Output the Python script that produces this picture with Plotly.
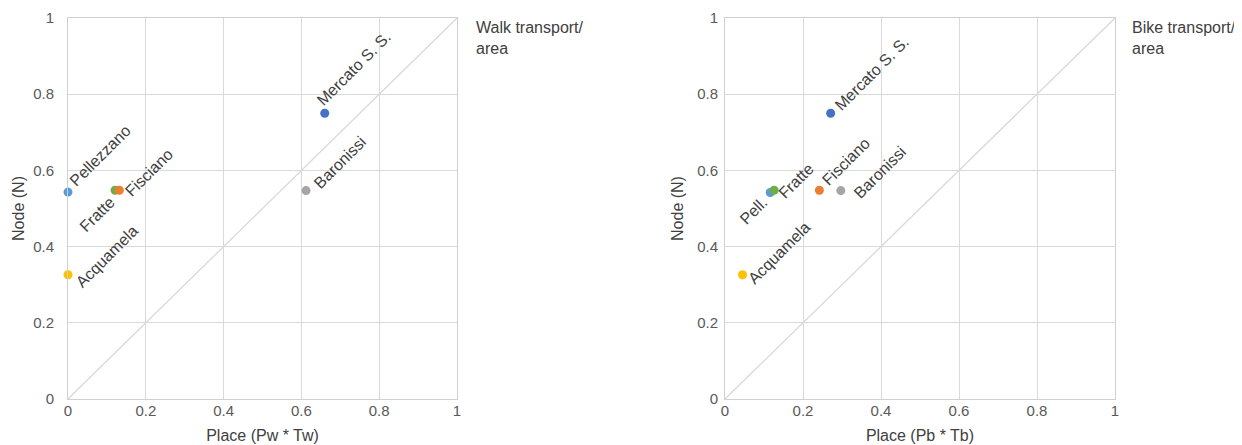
import math
import plotly.graph_objects as go

# ---------------- data ----------------
names = ["Mercato S. S.", "Pellezzano", "Fratte", "Fisciano", "Baronissi", "Acquamela"]
walk_place = [0.66, 0.0, 0.121, 0.132, 0.612, 0.0]
walk_node = [0.75, 0.543, 0.548, 0.548, 0.547, 0.326]
bike_place = [0.271, 0.116, 0.126, 0.242, 0.297, 0.045]
bike_node = [0.75, 0.542, 0.548, 0.548, 0.547, 0.326]
walk_labels = ["Mercato S. S.", "Pellezzano", "Fratte", "Fisciano", "Baronissi", "Acquamela"]
bike_labels = ["Mercato S. S.", "Pell.", "Fratte", "Fisciano", "Baronissi", "Acquamela"]
colors = ["#4472C4", "#5B9BD5", "#70AD47", "#ED7D31", "#A5A5A5", "#FFC000"]
diag = [0, 1]
ticks = [0, 0.2, 0.4, 0.6, 0.8, 1]
tick_text = ["0", "0.2", "0.4", "0.6", "0.8", "1"]

# label placement: screen offset (px) of the text start (or end) from the marker
walk_off = [(-6, -10, "start"), (4, -8, "start"), (-4, 10, "end"),
            (8, 4, "start"), (10, -4, "start"), (10, 11, "start")]
bike_off = [(6, -5, "start"), (-6, 8, "end"), (7, 6, "start"),
            (5, -7, "start"), (15, 6, "start"), (8, 7, "start")]

LABEL_FS = 16
ARIAL = {' ': 278, '.': 278, '/': 278, 'A': 667, 'B': 667, 'F': 611, 'M': 833,
         'P': 667, 'S': 667, 'a': 556, 'c': 500, 'e': 556, 'i': 222, 'k': 500,
         'l': 222, 'm': 833, 'n': 556, 'o': 556, 'q': 556, 'r': 333, 's': 500,
         't': 278, 'u': 556, 'z': 500}


def text_w(s, fs):
    return sum(ARIAL.get(ch, 556) for ch in s) / 1000.0 * fs


def center_shift(label, dx, dy, mode, fs=LABEL_FS):
    c = math.sqrt(0.5)
    w = text_w(label, fs)
    if mode == "end":
        sx, sy = dx - c * w, dy + c * w
    else:
        sx, sy = dx, dy
    up = 0.3465 * fs
    cx = sx + c * w / 2 - c * up + 4.5
    cy = sy - c * w / 2 - c * up + 3
    return cx, -cy


fig = go.Figure()

# page body has an 8px margin: figure is drawn from (8, 8) in the window
OFF = 8
W, H = 1242 - OFF, 445 - OFF


def px_x(v):
    return (v - OFF) / W


def px_y(v):
    return (H - (v - OFF)) / H


panels = [
    dict(xd=[px_x(68), px_x(457)], xa="x", ya="y", px=walk_place, py=walk_node,
         labels=walk_labels, offs=walk_off, title="Place (Pw * Tw)",
         corner="Walk transport/<br>area", cx=px_x(474), ystand=10, ytstand=4),
    dict(xd=[px_x(725), px_x(1115)], xa="x2", ya="y2", px=bike_place, py=bike_node,
         labels=bike_labels, offs=bike_off, title="Place (Pb * Tb)",
         corner="Bike transport/<br>area", cx=px_x(1130), ystand=3, ytstand=9),
]
ydom = [px_y(399), px_y(18)]

annotations = []
for i, p in enumerate(panels):
    fig.add_trace(go.Scatter(x=diag, y=diag, mode="lines", xaxis=p["xa"], yaxis=p["ya"],
                             line=dict(color="#D9D9D9", width=1.3), hoverinfo="skip",
                             showlegend=False))
    for j in range(len(names)):
        fig.add_trace(go.Scatter(x=[p["px"][j]], y=[p["py"][j]], mode="markers",
                                 xaxis=p["xa"], yaxis=p["ya"], name=names[j],
                                 marker=dict(color=colors[j], size=9),
                                 cliponaxis=False, showlegend=False))
        dx, dy, mode = p["offs"][j]
        xs, ys = center_shift(p["labels"][j], dx, dy, mode)
        annotations.append(dict(x=p["px"][j], y=p["py"][j], xref=p["xa"], yref=p["ya"],
                                text=p["labels"][j], showarrow=False, textangle=-45,
                                xanchor="center", yanchor="middle", xshift=xs, yshift=ys,
                                font=dict(family="Liberation Sans, Arial", size=LABEL_FS,
                                          color="#404040")))
    annotations.append(dict(x=p["cx"], y=px_y(38), xref="paper", yref="paper",
                            text=p["corner"], showarrow=False, xanchor="left",
                            yanchor="middle", align="left",
                            font=dict(family="Liberation Sans, Arial", size=16,
                                      color="#404040")))

axis_common = dict(range=[0, 1], tickvals=ticks, ticktext=tick_text, showgrid=True,
                   gridcolor="#D9D9D9", gridwidth=1, zeroline=False, showline=True,
                   linecolor="#D0D0D0", linewidth=1, mirror=True, ticks="",
                   tickfont=dict(family="Liberation Sans, Arial", size=15, color="#595959"),
                   fixedrange=True, automargin=False)

layout_axes = {}
for i, p in enumerate(panels):
    sfx = "" if i == 0 else str(i + 1)
    layout_axes["xaxis" + sfx] = dict(axis_common, domain=p["xd"],
                                      anchor="y" + sfx,
                                      title=dict(text=p["title"], standoff=11,
                                                 font=dict(family="Liberation Sans, Arial",
                                                           size=16, color="#404040")),
                                      ticklabelstandoff=-2)
    layout_axes["yaxis" + sfx] = dict(axis_common, domain=ydom,
                                      anchor="x" + sfx,
                                      title=dict(text="Node (N)", standoff=p["ytstand"],
                                                 font=dict(family="Liberation Sans, Arial",
                                                           size=16, color="#404040")),
                                      ticklabelstandoff=p["ystand"])

fig.update_layout(
    width=W, height=H, autosize=False,
    margin=dict(l=0, r=0, t=0, b=0, autoexpand=False),
    paper_bgcolor="white", plot_bgcolor="white",
    font=dict(family="Liberation Sans, Arial", color="#404040"),
    annotations=annotations,
    showlegend=False,
    **layout_axes,
)

fig.write_html("out.html")
